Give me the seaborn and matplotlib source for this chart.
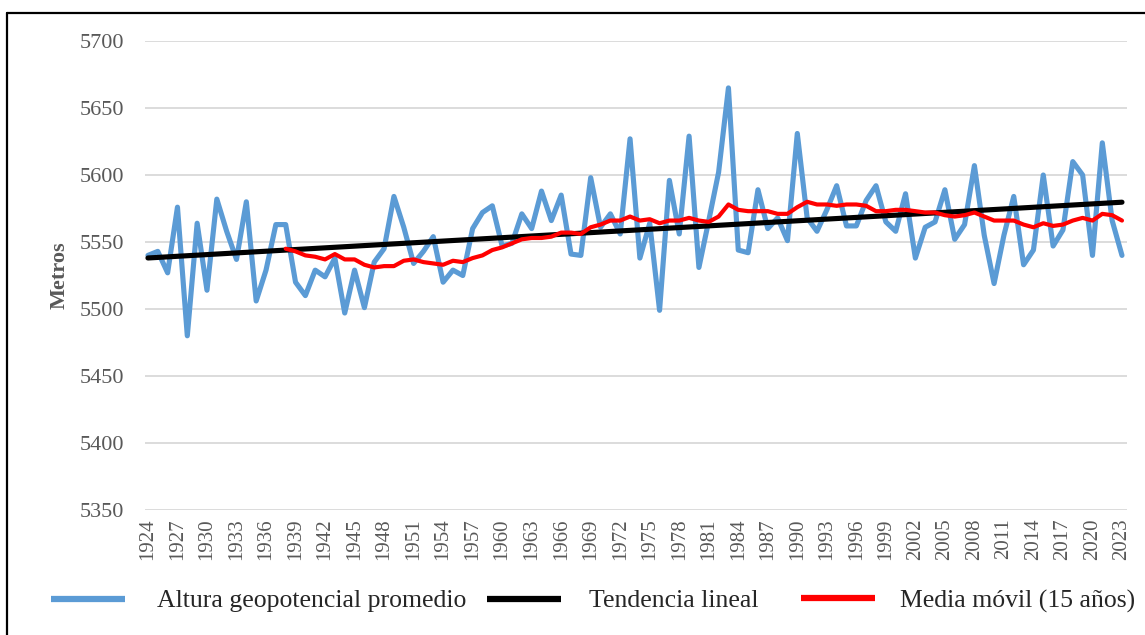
import numpy as np
import pandas as pd
import matplotlib
matplotlib.use("Agg")
import matplotlib.pyplot as plt
from matplotlib.lines import Line2D
import seaborn as sns

# Mean geopotential height (m), yearly series 1924-2023
years = list(range(1924, 2024))
altura = [
    5540, 5543, 5527, 5576, 5480, 5564, 5514, 5582, 5558, 5537,
    5580, 5506, 5529, 5563, 5563, 5520, 5510, 5529, 5524, 5538,
    5497, 5529, 5501, 5535, 5545, 5584, 5561, 5534, 5543, 5554,
    5520, 5529, 5525, 5560, 5572, 5577, 5547, 5549, 5571, 5560,
    5588, 5566, 5585, 5541, 5540, 5598, 5561, 5571, 5556, 5627,
    5538, 5564, 5499, 5596, 5556, 5629, 5531, 5566, 5602, 5665,
    5544, 5542, 5589, 5560, 5568, 5551, 5631, 5568, 5558, 5574,
    5592, 5562, 5562, 5581, 5592, 5565, 5558, 5586, 5538, 5561,
    5565, 5589, 5552, 5563, 5607, 5555, 5519, 5555, 5584, 5533,
    5544, 5600, 5547, 5559, 5610, 5600, 5540, 5624, 5566, 5540,
]

# 15-year moving average, available from 1938 onwards
media_years = list(range(1938, 2024))
media_movil = [
    5545, 5543, 5540, 5539, 5537, 5541, 5537, 5537, 5533, 5531,
    5532, 5532, 5536, 5537, 5535, 5534, 5533, 5536, 5535, 5538,
    5540, 5544, 5546, 5549, 5552, 5553, 5553, 5554, 5557, 5557,
    5556, 5561, 5563, 5566, 5566, 5569, 5566, 5567, 5564, 5566,
    5566, 5568, 5566, 5565, 5569, 5578, 5574, 5573, 5573, 5573,
    5571, 5571, 5576, 5580, 5578, 5578, 5577, 5578, 5578, 5577,
    5573, 5573, 5574, 5574, 5573, 5572, 5572, 5570, 5569, 5570,
    5572, 5569, 5566, 5566, 5566, 5563, 5561, 5564, 5562, 5563,
    5566, 5568, 5566, 5571, 5570, 5566,
]

labels = ["Altura geopotencial promedio", "Tendencia lineal", "Media móvil (15 años)"]
y_ticks = [5350, 5400, 5450, 5500, 5550, 5600, 5650, 5700]

df = pd.DataFrame({"year": years, "altura": altura})
# least-squares linear trend of the yearly series
slope, intercept = np.polyfit(df["year"], df["altura"], 1)
df["tendencia"] = intercept + slope * df["year"]
dm = pd.DataFrame({"year": media_years, "media": media_movil})

sns.set_theme(style="white")
plt.rcParams["font.family"] = ["Liberation Serif", "DejaVu Serif"]

W, H = 1145, 635
fig = plt.figure(figsize=(W / 100, H / 100), dpi=100)
ax = fig.add_axes([145 / W, 1 - 510 / H, (1127 - 145) / W, (510 - 41) / H])

blue, black, red = "#5B9BD5", "#000000", "#FF0000"
grey = "#595959"

sns.lineplot(data=df, x="year", y="altura", ax=ax, color=blue, linewidth=3.7,
             solid_capstyle="round", solid_joinstyle="round", zorder=3)
sns.lineplot(data=df, x="year", y="tendencia", ax=ax, color=black, linewidth=3.7,
             solid_capstyle="round", zorder=4)
sns.lineplot(data=dm, x="year", y="media", ax=ax, color=red, linewidth=3.0,
             solid_capstyle="round", solid_joinstyle="round", zorder=5)

ax.set_xlim(1923.70, 2023.51)
ax.set_ylim(5350, 5700)
ax.set_yticks(y_ticks)
ax.set_yticklabels([str(v) for v in y_ticks])
ax.set_xticks(years[::3])
ax.set_xticklabels([str(y) for y in years[::3]], rotation=90)

ax.grid(axis="y", color="#D9D9D9", linewidth=1.3)
ax.grid(axis="x", visible=False)
for s in ax.spines.values():
    s.set_visible(False)
ax.tick_params(axis="y", length=0, pad=15, labelsize=16, labelcolor=grey)
ax.tick_params(axis="x", length=0, pad=6, labelsize=15, labelcolor=grey)

ax.set_xlabel("")
ax.set_ylabel("Metros", fontsize=16, fontweight="bold", color=grey, labelpad=7)

# legend row: one entry per block, each placed at its own start position
leg_fs = 18.5
leg_fs_px = leg_fs * 100 / 72
legend_x = [51, 487, 801]
text_gap_px = [32, 28, 25]
for color, label, x0, gap in zip([blue, black, red], labels, legend_x, text_gap_px):
    h = Line2D([], [], color=color, linewidth=4.5, solid_capstyle="butt")
    leg = fig.legend([h], [label], loc="center left", bbox_to_anchor=(x0 / W, 1 - 601 / H),
                     frameon=False, fontsize=leg_fs, handlelength=74 / leg_fs_px,
                     handletextpad=gap / leg_fs_px, borderpad=0, borderaxespad=0)
    for t in leg.get_texts():
        t.set_color("#262626")

# chart frame (left and top edges)
fig.add_artist(Line2D([7 / W, 7 / W], [0, 1 - 13 / H], color="black", linewidth=1.6,
                      transform=fig.transFigure))
fig.add_artist(Line2D([7 / W, 1], [1 - 13 / H, 1 - 13 / H], color="black", linewidth=1.6,
                      transform=fig.transFigure))

fig.savefig("out.png", dpi=100)
